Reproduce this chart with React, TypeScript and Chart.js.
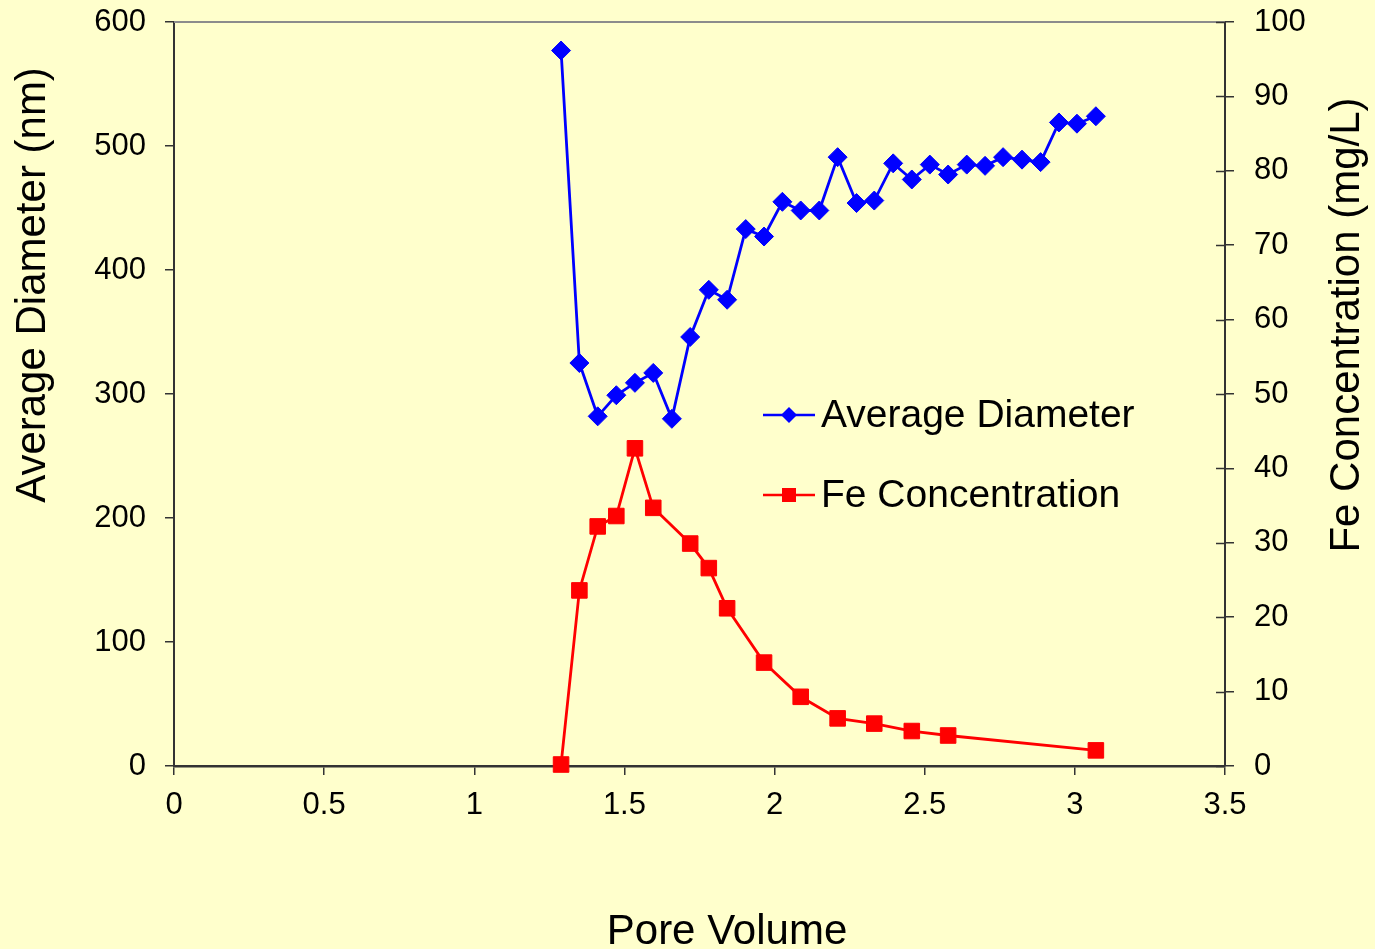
import React, { useEffect, useRef } from "react";
import { Chart, registerables } from "chart.js";

Chart.register(...registerables);

// Pore volume at each diameter measurement
const poreVolume = [
  1.289, 1.35, 1.411, 1.473, 1.535, 1.596, 1.658, 1.719, 1.781, 1.842, 1.904, 1.965, 2.026, 2.087, 2.149,
  2.21, 2.273, 2.332, 2.395, 2.457, 2.517, 2.578, 2.64, 2.701, 2.761, 2.824, 2.886, 2.947, 3.007, 3.07,
];
// Average particle diameter (nm)
const avgDiameter = [
  577, 325, 282, 299, 309, 317, 280, 346, 384, 376, 433, 427, 455, 448, 448,
  491, 454, 456, 486, 473, 485, 477, 485, 484, 491, 489, 487, 519, 518, 524,
];
// Pore volume at each Fe sample
const fePoreVolume = [
  1.289, 1.35, 1.411, 1.473, 1.535, 1.596, 1.719, 1.781, 1.842, 1.965, 2.087, 2.21, 2.332, 2.457, 2.578, 3.07,
];
// Fe concentration (mg/L)
const feConcentration = [0.2, 23.6, 32.2, 33.6, 42.7, 34.7, 29.9, 26.6, 21.2, 13.9, 9.3, 6.4, 5.7, 4.7, 4.1, 2.1];

const seriesNames = ["Average Diameter", "Fe Concentration"];
const xTitle = "Pore Volume";
const yLeftTitle = "Average Diameter (nm)";
const yRightTitle = "Fe Concentration (mg/L)";

const BG = "#FFFFCC";
const AXIS = "#333333";
const FONT = "'Liberation Sans', Arial, sans-serif";

const decorPlugin = {
  id: "decor",
  afterDraw(chart: any) {
    const { ctx, chartArea } = chart;
    const yR = chart.scales.yR;
    ctx.save();
    // top border of plot area
    ctx.strokeStyle = "#8c8c8c";
    ctx.lineWidth = 2;
    ctx.beginPath();
    ctx.moveTo(chartArea.left, chartArea.top);
    ctx.lineTo(chartArea.right, chartArea.top);
    ctx.stroke();
    // inner half of the crossing ticks on the right axis
    ctx.strokeStyle = AXIS;
    ctx.lineWidth = 1.5;
    yR.ticks.forEach((t: any) => {
      const y = Math.round(yR.getPixelForValue(t.value)) + 0.5;
      ctx.beginPath();
      ctx.moveTo(chartArea.right - 9, y);
      ctx.lineTo(chartArea.right, y);
      ctx.stroke();
    });

    // axis titles
    ctx.fillStyle = "#000";
    ctx.font = `42px ${FONT}`;
    ctx.textAlign = "center";
    ctx.textBaseline = "alphabetic";
    ctx.fillText(xTitle, 727, 944);

    ctx.save();
    ctx.translate(45, 285);
    ctx.rotate(-Math.PI / 2);
    ctx.fillText(yLeftTitle, 0, 0);
    ctx.restore();

    ctx.save();
    ctx.translate(1359, 325);
    ctx.rotate(-Math.PI / 2);
    ctx.fillText(yRightTitle, 0, 0);
    ctx.restore();

    // legend
    const items = [
      { y: 415, color: "#0000FF", shape: "diamond" },
      { y: 495, color: "#FF0000", shape: "square" },
    ];
    items.forEach((it, i) => {
      ctx.strokeStyle = it.color;
      ctx.fillStyle = it.color;
      ctx.lineWidth = 2.5;
      ctx.beginPath();
      ctx.moveTo(763, it.y);
      ctx.lineTo(815, it.y);
      ctx.stroke();
      ctx.beginPath();
      if (it.shape === "diamond") {
        ctx.moveTo(789, it.y - 8);
        ctx.lineTo(797, it.y);
        ctx.lineTo(789, it.y + 8);
        ctx.lineTo(781, it.y);
        ctx.closePath();
      } else {
        ctx.rect(782, it.y - 7, 14, 14);
      }
      ctx.fill();
      ctx.fillStyle = "#000";
      ctx.font = `39px ${FONT}`;
      ctx.textAlign = "left";
      ctx.textBaseline = "middle";
      ctx.fillText(seriesNames[i], 821, it.y + 1);
    });
    ctx.restore();
  },
};

export default function App() {
  const canvasRef = useRef<HTMLCanvasElement | null>(null);

  useEffect(() => {
    const canvas = canvasRef.current;
    if (!canvas) return;
    const tickFont = { family: FONT, size: 31 };
    const plainLabel = (v: any) => String(Number(v));
    const fitVertical = (w: number) => (s: any) => {
      s.width = w;
      s.paddingTop = 0;
      s.paddingBottom = 0;
    };
    const chart = new Chart(canvas, {
      type: "line",
      data: {
        datasets: [
          {
            label: seriesNames[0],
            data: poreVolume.map((x, i) => ({ x, y: avgDiameter[i] })),
            yAxisID: "yL",
            borderColor: "#0000FF",
            backgroundColor: "#0000FF",
            borderWidth: 2.8,
            pointStyle: "rectRot",
            pointRadius: 9.5,
            pointBorderWidth: 1,
            tension: 0,
            clip: false,
          },
          {
            label: seriesNames[1],
            data: fePoreVolume.map((x, i) => ({ x, y: feConcentration[i] })),
            yAxisID: "yR",
            borderColor: "#FF0000",
            backgroundColor: "#FF0000",
            borderWidth: 2.8,
            pointStyle: "rect",
            pointRadius: 11,
            pointBorderWidth: 1,
            tension: 0,
            clip: false,
          },
        ],
      },
      options: {
        animation: false,
        responsive: false,
        maintainAspectRatio: false,
        layout: { padding: { top: 22, left: 0, right: 0, bottom: 0 } },
        plugins: { legend: { display: false }, tooltip: { enabled: false } },
        scales: {
          x: {
            type: "linear",
            min: 0,
            max: 3.5,
            ticks: { stepSize: 0.5, color: "#000", font: tickFont, padding: 12, callback: plainLabel },
            grid: { drawOnChartArea: false, drawTicks: true, tickLength: 9, color: AXIS, lineWidth: 1.5 },
            border: { display: true, color: AXIS, width: 2.5 },
            afterFit: (s: any) => {
              s.height = 183;
              s.paddingLeft = 0;
              s.paddingRight = 0;
            },
          },
          yL: {
            type: "linear",
            position: "left",
            min: 0,
            max: 600,
            ticks: { stepSize: 100, color: "#000", font: tickFont, padding: 19, callback: plainLabel },
            grid: { drawOnChartArea: false, drawTicks: true, tickLength: 9, color: AXIS, lineWidth: 1.5 },
            border: { display: true, color: AXIS, width: 2 },
            afterFit: fitVertical(174),
          },
          yR: {
            type: "linear",
            position: "right",
            min: 0,
            max: 100,
            ticks: { stepSize: 10, color: "#000", font: tickFont, padding: 20, callback: plainLabel },
            grid: { drawOnChartArea: false, drawTicks: true, tickLength: 9, color: AXIS, lineWidth: 1.5 },
            border: { display: true, color: AXIS, width: 2 },
            afterFit: fitVertical(150),
          },
        },
      },
      plugins: [decorPlugin],
    });
    return () => chart.destroy();
  }, []);

  return (
    <div style={{ position: "fixed", left: 0, top: 0, width: 1375, height: 949, background: BG }}>
      <canvas ref={canvasRef} width={1375} height={949} style={{ display: "block", width: 1375, height: 949 }} />
    </div>
  );
}
